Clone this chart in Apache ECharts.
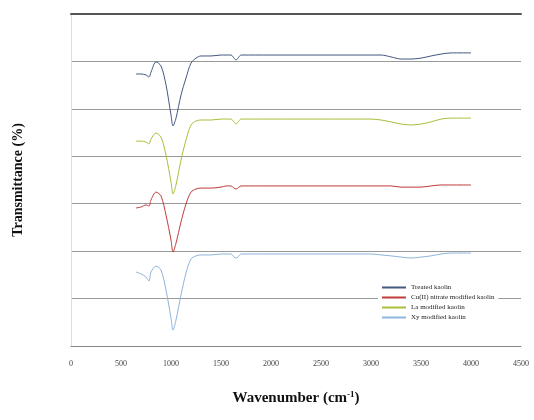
<!DOCTYPE html>
<html lang="en">
<head>
    <meta charset="UTF-8" />
    <title>FTIR spectra</title>
    <script src="https://cdn.jsdelivr.net/npm/echarts@6/dist/echarts.min.js"></script>
    <style>
        html, body { margin: 0; padding: 0; background: #fff; }
        #chart { width: 534px; height: 420px; }
    </style>
</head>
<body>
    <div id="chart"></div>
<script type="text/javascript">
    // wavenumbers shared by all four spectra (cm-1)
    var wavenumbers = [650, 700, 750, 780, 800, 850, 900, 950, 1000, 1020, 1050, 1100, 1150, 1200, 1250, 1300,
        1400, 1500, 1550, 1600, 1630, 1650, 1680, 1700, 2000, 2500, 3000, 3100, 3200, 3300, 3400, 3500,
        3600, 3700, 3800, 4000];

    // offset transmittance values
    var treatedKaolin = [114.7, 114.7, 114.3, 113.4, 115.5, 119.8, 118.1, 110.1, 97.4, 92.8, 96.1, 105.8, 113.0, 119.3, 121.4, 122.3,
        122.3, 122.7, 122.7, 122.7, 121.4, 120.6, 121.9, 122.7, 122.7, 122.7, 122.7, 122.7, 121.9, 121.0, 121.0, 121.4,
        122.3, 123.1, 123.6, 123.6];
    var laKaolin = [86.4, 86.4, 86.0, 85.2, 87.3, 89.8, 88.1, 80.5, 69.2, 64.1, 67.9, 78.4, 86.9, 93.2, 94.9, 95.3,
        95.3, 95.7, 95.7, 95.7, 94.5, 93.6, 94.9, 95.7, 95.7, 95.7, 95.7, 95.3, 94.5, 93.6, 93.2, 93.6,
        94.5, 95.7, 96.1, 96.1];
    var cuKaolin = [58.2, 58.6, 59.5, 59.0, 61.6, 64.9, 63.3, 55.2, 44.7, 39.6, 43.4, 52.3, 59.9, 64.9, 66.2, 66.6,
        66.6, 67.0, 67.5, 67.5, 66.6, 66.2, 67.0, 67.5, 67.5, 67.5, 67.5, 67.5, 67.5, 67.0, 67.0, 67.0,
        67.5, 67.9, 67.9, 67.9];
    var xyKaolin = [31.2, 30.4, 29.1, 27.4, 31.2, 33.7, 32.0, 23.6, 11.8, 6.7, 11.0, 21.5, 30.8, 36.7, 38.0, 38.4,
        38.4, 38.8, 38.8, 38.8, 37.5, 37.1, 38.0, 38.8, 38.8, 38.8, 38.8, 38.4, 38.0, 37.5, 37.1, 37.5,
        38.0, 38.8, 39.2, 39.2];

    var seriesNames = ['Treated kaolin', 'Cu(II) nitrate modified kaolin', 'La modified kaolin', 'Xy modified kaolin'];
    var seriesColors = ['#45587f', '#c23a3a', '#a9bf3c', '#8fb4dc'];
    var seriesValues = [treatedKaolin, cuKaolin, laKaolin, xyKaolin];

    function pairs(vals) {
        return wavenumbers.map(function (w, i) { return [w, vals[i]]; });
    }

    var myChart = echarts.init(document.getElementById('chart'));

    var option = {
        animation: false,
        backgroundColor: '#fff',
        grid: { left: 71, right: 13, top: 14, bottom: 74 },
        legend: {
            orient: 'vertical',
            left: 378,
            top: 282,
            itemWidth: 24,
            itemHeight: 2,
            itemGap: 3,
            padding: [2, 4],
            backgroundColor: '#fff',
            icon: 'rect',
            textStyle: { fontFamily: 'Liberation Serif', fontSize: 7, color: '#222' },
            data: seriesNames
        },
        xAxis: [{
            type: 'value',
            min: 0,
            max: 4500,
            interval: 500,
            name: '{b|Wavenumber (cm}{s|-1}{b|)}',
            nameLocation: 'middle',
            nameGap: 44,
            nameTextStyle: {
                rich: {
                    b: { fontFamily: 'Liberation Serif', fontSize: 15, fontWeight: 'bold', color: '#111' },
                    s: { fontFamily: 'Liberation Serif', fontSize: 9, fontWeight: 'bold', color: '#111', verticalAlign: 'top', padding: [0, 0, 8, 0] }
                }
            },
            axisLine: { lineStyle: { color: '#888', width: 1 } },
            axisTick: { show: false },
            splitLine: { show: false },
            axisLabel: {
                fontFamily: 'Liberation Serif', fontSize: 8, color: '#444', margin: 14,
                formatter: function (v) { return String(v); }
            }
        }, {
            type: 'value',
            position: 'top',
            min: 0,
            max: 4500,
            axisLine: { show: true, lineStyle: { color: '#555', width: 2 } },
            axisTick: { show: false },
            axisLabel: { show: false },
            splitLine: { show: false }
        }],
        yAxis: {
            type: 'value',
            min: 0,
            max: 140,
            interval: 20,
            name: 'Transmittance (%)',
            nameLocation: 'middle',
            nameGap: 46,
            nameTextStyle: { fontFamily: 'Liberation Serif', fontSize: 14, fontWeight: 'bold', color: '#111' },
            axisLine: { show: true, lineStyle: { color: '#ddd' } },
            axisTick: { show: false },
            axisLabel: { show: false },
            splitLine: { lineStyle: { color: '#999', width: 1 } }
        },
        series: seriesValues.map(function (vals, i) {
            return {
                name: seriesNames[i],
                type: 'line',
                data: pairs(vals),
                symbol: 'none',
                smooth: 0.3,
                lineStyle: { color: seriesColors[i], width: 1 },
                itemStyle: { color: seriesColors[i] }
            };
        })
    };

    myChart.setOption(option);
</script>
</body>
</html>
